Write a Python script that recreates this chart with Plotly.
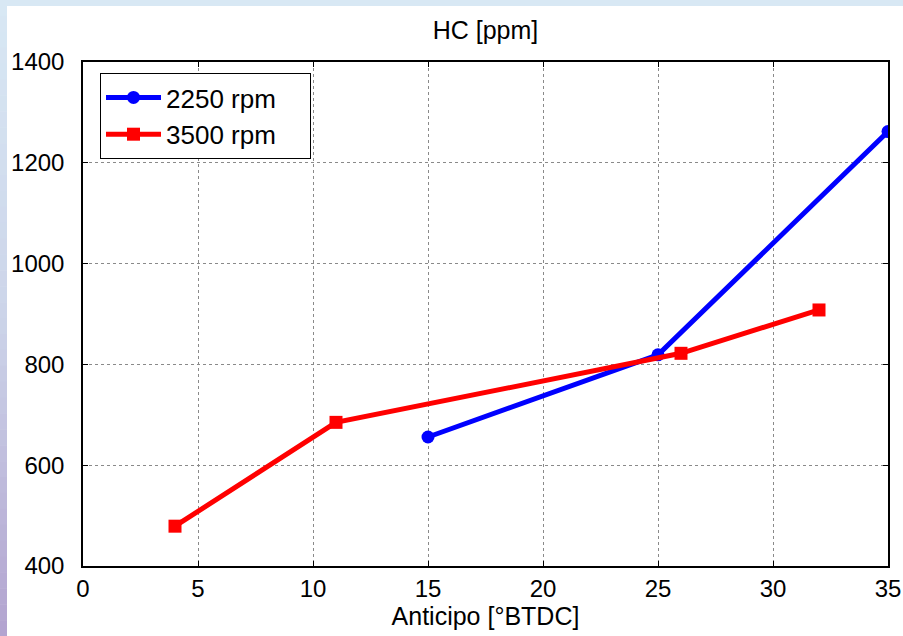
import plotly.graph_objects as go

# Data
x_2250 = [15, 25, 35]
y_2250 = [656, 819, 1262]
x_3500 = [4, 11, 26, 32]
y_3500 = [479, 685, 822, 908]

series_names = ["2250 rpm", "3500 rpm"]
title_text = "HC [ppm]"
x_title = "Anticipo [°BTDC]"
x_ticks = [0, 5, 10, 15, 20, 25, 30, 35]
y_ticks = [400, 600, 800, 1000, 1200, 1400]

W, H = 903, 636
ML, MR, MT, MB = 83, 15, 62, 70
PW, PH = W - ML - MR, H - MT - MB

FONT = "Liberation Sans, Arial, Helvetica, sans-serif"
PAD = "\u00a0" * 4  # right padding inside the legend box

fig = go.Figure()
fig.add_trace(go.Scatter(
    x=x_2250, y=y_2250, mode="lines+markers", name=series_names[0] + PAD,
    line=dict(color="#0000ff", width=5),
    marker=dict(symbol="circle", size=13, color="#0000ff"),
))
fig.add_trace(go.Scatter(
    x=x_3500, y=y_3500, mode="lines+markers", name=series_names[1] + PAD,
    line=dict(color="#ff0000", width=5),
    marker=dict(symbol="square", size=13, color="#ff0000"),
))

# decorative background strips (left gradient, top band)
def px_x(p):
    return (p - ML) / PW

def px_y(p):
    return (H - MB - p) / PH

shapes = []
c_top = (0xd8, 0xe8, 0xf4)
c_mid = (0xcc, 0xd4, 0xe9)
c_bot = (0xb2, 0xa3, 0xcf)
N = 40
for i in range(N):
    t = (i + 0.5) / N
    if t < 0.5:
        a, b, u = c_top, c_mid, t / 0.5
    else:
        a, b, u = c_mid, c_bot, (t - 0.5) / 0.5
    col = "rgb(%d,%d,%d)" % tuple(round(a[k] + (b[k] - a[k]) * u) for k in range(3))
    shapes.append(dict(type="rect", xref="paper", yref="paper", layer="below",
                       x0=px_x(0), x1=px_x(7), y0=px_y(H * i / N), y1=px_y(H * (i + 1) / N + 0.5),
                       fillcolor=col, line=dict(width=0)))
shapes.append(dict(type="rect", xref="paper", yref="paper", layer="below",
                   x0=px_x(0), x1=px_x(W), y0=px_y(0), y1=px_y(6),
                   fillcolor="rgb(216,232,244)", line=dict(width=0)))

axis_common = dict(
    showline=True, linecolor="black", linewidth=1.5, mirror="ticks",
    ticks="inside", ticklen=5, tickcolor="black", tickwidth=1,
    showgrid=True, gridcolor="#8a8a8a", gridwidth=1, griddash="dot",
    zeroline=False, automargin=False,
    tickfont=dict(family=FONT, size=24, color="black"),
)

fig.update_layout(
    width=W, height=H,
    margin=dict(l=ML, r=MR, t=MT, b=MB, autoexpand=False),
    paper_bgcolor="white", plot_bgcolor="white",
    font=dict(family=FONT, color="black"),
    title=dict(text=title_text, x=(ML + PW / 2) / W, xanchor="center",
               y=1 - 30 / H, yanchor="middle", font=dict(family=FONT, size=25)),
    xaxis=dict(range=[0, 35], tickvals=x_ticks, **axis_common,
               title=dict(text=x_title, font=dict(family=FONT, size=25), standoff=4)),
    yaxis=dict(range=[400, 1400], tickvals=y_ticks, ticklabelstandoff=12, **axis_common),
    legend=dict(x=px_x(100), y=px_y(73), xanchor="left", yanchor="top",
                bgcolor="white", bordercolor="black", borderwidth=1,
                font=dict(family=FONT, size=26), itemwidth=55,
                tracegroupgap=0),
    shapes=shapes,
    showlegend=True,
)

fig.write_html("out.html", config={"displayModeBar": False},
               post_script="document.body.style.margin='0';")
